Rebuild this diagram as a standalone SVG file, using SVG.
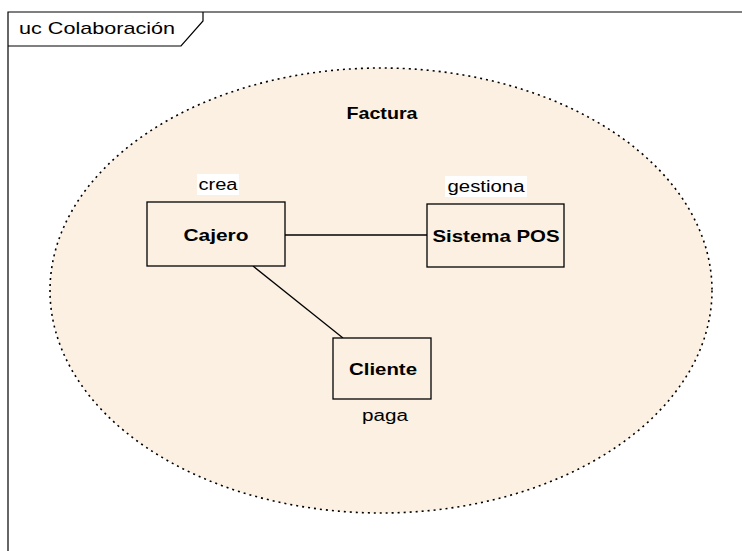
<svg xmlns="http://www.w3.org/2000/svg" width="742" height="551" viewBox="0 0 742 551">
  <style>
    .frame { fill: none; stroke: #000; stroke-width: 1.2; }
    .box { fill: #FBF0E2; stroke: #000; stroke-width: 1.3; }
    .name { font-family: "Liberation Sans", Arial, sans-serif; font-size: 17px; font-weight: bold; fill: #000; text-anchor: middle; }
    .role { font-family: "Liberation Sans", Arial, sans-serif; font-size: 16px; fill: #000; text-anchor: middle; }
    .conn { stroke: #000; stroke-width: 1.3; fill: none; }
  </style>
  <rect width="742" height="551" fill="#fff"/>

  <!-- diagram frame with name tab -->
  <g id="frame">
    <path class="frame" d="M8,551 V12 H742"/>
    <path class="frame" d="M8,46 H181 L203,21 V12"/>
    <text x="19" y="34" font-family="Liberation Sans, Arial, sans-serif" font-size="17" textLength="156" lengthAdjust="spacingAndGlyphs">uc Colaboración</text>
  </g>

  <!-- collaboration -->
  <g id="Factura">
    <ellipse cx="381" cy="290.5" rx="331" ry="222.5" fill="#FBF0E2" stroke="#000" stroke-width="1.6" stroke-dasharray="2 4"/>
    <text class="name" x="382" y="119" textLength="71" lengthAdjust="spacingAndGlyphs">Factura</text>
  </g>

  <g id="connectors">
    <line class="conn" x1="285" y1="235" x2="427" y2="235"/>
    <line class="conn" x1="253" y1="266" x2="343" y2="338"/>
  </g>

  <g id="Cajero">
    <rect x="197" y="174" width="42" height="21" fill="#fff"/>
    <text class="role" x="218" y="190" textLength="39" lengthAdjust="spacingAndGlyphs">crea</text>
    <rect class="box" x="147" y="202" width="138" height="64"/>
    <text class="name" x="216" y="241" textLength="65" lengthAdjust="spacingAndGlyphs">Cajero</text>
  </g>

  <g id="SistemaPOS">
    <rect x="445" y="176" width="82" height="21" fill="#fff"/>
    <text class="role" x="486" y="192" textLength="77" lengthAdjust="spacingAndGlyphs">gestiona</text>
    <rect class="box" x="427" y="204" width="137" height="63"/>
    <text class="name" x="496" y="242" textLength="127" lengthAdjust="spacingAndGlyphs">Sistema POS</text>
  </g>

  <g id="Cliente">
    <rect class="box" x="333" y="338" width="98" height="61"/>
    <text class="name" x="383" y="375" textLength="68" lengthAdjust="spacingAndGlyphs">Cliente</text>
    <text class="role" x="385" y="421" textLength="46" lengthAdjust="spacingAndGlyphs">paga</text>
  </g>
</svg>
